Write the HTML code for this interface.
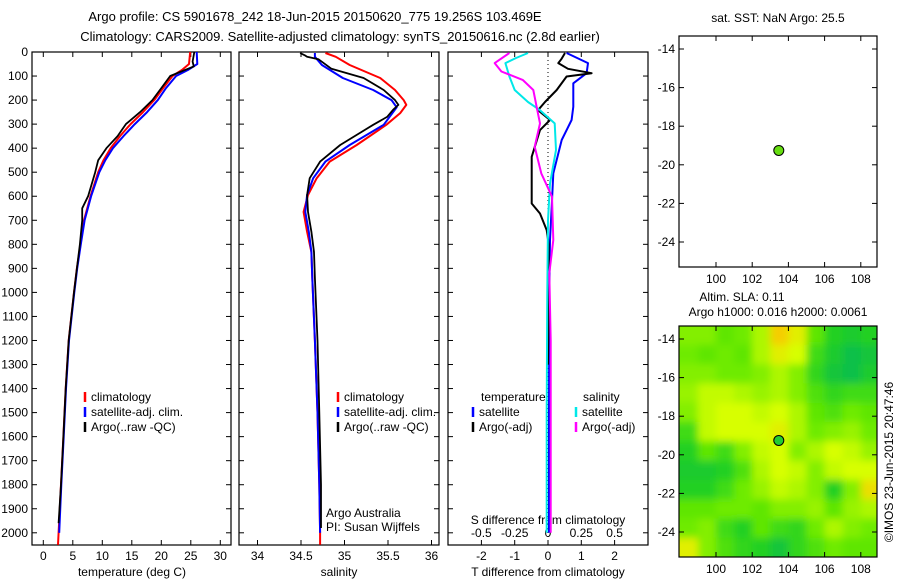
<!DOCTYPE html>
<html><head><meta charset="utf-8"><style>
body{margin:0;background:#fff;}
svg text{font-family:"Liberation Sans",sans-serif;fill:#000;}
</style></head><body>
<svg id="fig" width="900" height="580" xmlns="http://www.w3.org/2000/svg">
<defs>
<filter id="blur" x="-5%" y="-5%" width="110%" height="110%"><feGaussianBlur stdDeviation="4"/></filter>
<clipPath id="mapclip"><rect x="679" y="326" width="198" height="231"/></clipPath>
</defs>
<text x="315" y="21" font-size="13" text-anchor="middle">Argo profile: CS 5901678_242 18-Jun-2015 20150620_775 19.256S 103.469E</text>
<text x="340" y="41" font-size="13" text-anchor="middle">Climatology: CARS2009. Satellite-adjusted climatology: synTS_20150616.nc (2.8d earlier)</text>
<g id="g"></g>
</svg>
<script>
// ---- data ----
const tempDepths = [0,50,75,100,150,200,250,300,350,400,450,500,600,700,800,900,1000,1200,1400,1600,1800,2000,2050];
const tempClim   = [24.9,24.7,23.5,21.9,20.3,18.8,16.9,14.8,13.0,11.4,10.2,9.3,8.0,6.9,6.3,5.7,5.2,4.3,3.8,3.4,3.0,2.6,2.5];
const tempSatDepths = [0,50,75,100,150,200,250,300,350,400,450,500,600,700,800,900,1000,1200,1400,1600,1800,2000];
const tempSat    = [26.0,26.1,24.5,22.5,20.8,19.4,17.6,15.5,13.6,11.8,10.5,9.5,8.1,7.0,6.35,5.75,5.25,4.35,3.85,3.45,3.05,2.7];
const tempArgoDepths = [0,40,60,100,150,200,250,300,350,400,450,500,600,650,700,800,900,1000,1200,1400,1600,1800,1960];
const tempArgo   = [25.6,25.3,25.5,21.5,20.0,18.5,16.4,14.0,12.6,10.7,9.3,8.8,7.6,6.6,6.6,6.2,5.7,5.2,4.3,3.8,3.4,3.0,2.6];

const salDepths = [4,20,54,108,158,200,220,254,303,387,456,525,595,665,748,832,940,1200,1500,1800,2000,2050];
const salClim   = [34.78,34.90,35.06,35.41,35.58,35.68,35.71,35.64,35.48,35.14,34.83,34.68,34.58,34.53,34.57,34.62,34.63,34.66,34.69,34.71,34.72,34.72];
const salSatDepths = [4,20,54,108,158,200,230,303,387,456,525,595,665,748,832,940,1200,1500,1800,2000];
const salSat    = [34.66,34.66,34.74,34.98,35.33,35.54,35.60,35.45,35.06,34.78,34.64,34.57,34.55,34.59,34.62,34.63,34.66,34.69,34.71,34.72];
const salArgoDepths = [4,15,20,30,70,108,158,200,220,240,270,303,387,456,525,595,665,748,832,940,1200,1500,1800,1980];
const salArgo   = [34.49,34.55,34.57,34.70,34.85,35.22,35.45,35.58,35.62,35.56,35.49,35.33,34.95,34.72,34.60,34.57,34.58,34.62,34.65,34.66,34.69,34.71,34.73,34.73];

const dTSatDepths = [4,46,88,130,228,283,366,505,644,782,1000,1500,2000];
const dTSat = [0.56,1.2,1.16,0.76,0.76,0.71,0.41,0.16,0.11,0.06,0.04,0.03,0.03];
const dTArgoDepths = [4,30,46,70,88,102,158,208,242,283,325,436,547,630,672,741,800,1000,1300];
const dTArgo = [0.51,0.4,0.31,0.6,1.31,0.56,0.26,-0.09,-0.3,0.06,-0.24,-0.49,-0.49,-0.49,-0.24,-0.04,0.02,0.02,0.0];
const dSSatDepths = [4,25,46,102,158,208,242,297,408,547,700,1000,1500,2000];
const dSSat = [-0.15,-0.24,-0.32,-0.29,-0.25,-0.15,-0.06,0.05,0.06,0.015,0.0,-0.005,-0.01,-0.01];
const dSArgoDepths = [4,46,81,116,158,242,297,394,505,602,782,921,1200,1500,2000];
const dSArgo = [-0.29,-0.4,-0.35,-0.19,-0.11,-0.08,-0.06,-0.1,-0.05,0.03,0.04,0.01,0.02,0.02,0.02];

const depthTicks = [0,100,200,300,400,500,600,700,800,900,1000,1100,1200,1300,1400,1500,1600,1700,1800,1900,2000];
const tempTicks = [0,5,10,15,20,25,30];
const salTicks = [34,34.5,35,35.5,36];
const salTickLabels = ["34","34.5","35","35.5","36"];
const dTTicks = [-2,-1,0,1,2];
const dSTicks = [-0.5,-0.25,0,0.25,0.5];
const dSTickLabels = ["-0.5","-0.25","0","0.25","0.5"];
const lonTicks = [100,102,104,106,108];
const latTicks = [-14,-16,-18,-20,-22,-24];
const argoLon = 103.469, argoLat = -19.256;
const slaGrid = [
[0.6,0.6,0.5,0.55,0.7,0.95,0.85,0.5,0.3,0.25,0.3],
[0.55,0.5,0.55,0.5,0.7,0.85,0.8,0.4,0.25,0.15,0.2],
[0.6,0.6,0.55,0.55,0.6,0.7,0.6,0.35,0.2,0.15,0.25],
[0.65,0.75,0.75,0.7,0.65,0.7,0.6,0.45,0.35,0.4,0.4],
[0.6,0.75,0.8,0.8,0.75,0.8,0.7,0.5,0.45,0.55,0.5],
[0.4,0.75,0.8,0.8,0.8,0.85,0.7,0.55,0.6,0.65,0.55],
[0.3,0.5,0.4,0.6,0.75,0.8,0.6,0.7,0.8,0.75,0.65],
[0.25,0.25,0.3,0.45,0.7,0.8,0.75,0.6,0.75,0.8,0.8],
[0.3,0.3,0.4,0.55,0.65,0.75,0.7,0.6,0.3,0.6,0.9],
[0.5,0.5,0.55,0.55,0.5,0.6,0.6,0.65,0.5,0.65,0.7],
[0.55,0.6,0.4,0.3,0.5,0.4,0.35,0.55,0.7,0.6,0.55],
[0.85,0.6,0.45,0.35,0.3,0.2,0.35,0.45,0.55,0.5,0.5]];

// ---- drawing ----
const NS="http://www.w3.org/2000/svg";
const G=document.getElementById('g');
function el(tag,attrs,parent){const e=document.createElementNS(NS,tag);for(const k in attrs)e.setAttribute(k,attrs[k]);(parent||G).appendChild(e);return e;}
function txt(x,y,s,size,anchor,parent){const t=el('text',{x:x,y:y,'font-size':size||12,'text-anchor':anchor||'middle'},parent);t.textContent=s;return t;}
const Y = d => 52 + 0.2404*d;
const xT = v => 43.3 + 5.9*v;
const xS = v => 257.5 + 87*(v-34);
const xDT = v => 548 + 33.3*v;
const xDS = v => 548 + 133.2*v;
const xLon = v => 716 + 18.1*(v-100);
const yLat1 = v => 49 + 19.3*(-14 - v);
const yLat2 = v => 339 + 19.3*(-14 - v);

function frame(x0,y0,x1,y1,name){const r=el('rect',{x:x0,y:y0,width:x1-x0,height:y1-y0,fill:'none',stroke:'#000','stroke-width':1.2});}
function line(xs,ds,xf,color,name,w){
  const pts=xs.map((v,i)=>xf(v).toFixed(1)+','+Y(ds[i]).toFixed(1)).join(' ');
  const p=el('polyline',{points:pts,fill:'none',stroke:color,'stroke-width':w||2,'stroke-linejoin':'round'});
  
  
}
function xTicks(vals,labels,xf,y0,y1,ly){
  vals.forEach((v,i)=>{const x=xf(v);el('line',{x1:x,y1:y1,x2:x,y2:y1-5,stroke:'#000'});el('line',{x1:x,y1:y0,x2:x,y2:y0+5,stroke:'#000'});
    if(labels){const t=txt(x,ly,labels[i],12);}});
}
function yTicks(x0,x1,ticks,yf,labelX){
  ticks.forEach(v=>{const y=yf(v);el('line',{x1:x0,y1:y,x2:x0+5,y2:y,stroke:'#000'});el('line',{x1:x1,y1:y,x2:x1-5,y2:y,stroke:'#000'});
    if(labelX!==undefined){const t=txt(labelX,y+4,String(v),12,'end');}});
}
function legend(x,y,color,label){
  el('line',{x1:x,y1:y-5,x2:x,y2:y+5,stroke:color,'stroke-width':2.5});
  if(label){const t=txt(x+6,y+4,label,12,'start');}
}

// Panel 1: temperature
frame(32,52,231,545,'temperature-plot-frame');
yTicks(32,231,depthTicks,Y,28);
xTicks(tempTicks,tempTicks.map(String),xT,52,545,560);
{const t=txt(132,576,'temperature (deg C)',12);}
line(tempClim,tempDepths,xT,'#ff0000','temp-climatology-line');
line(tempSat,tempSatDepths,xT,'#0000ff','temp-satellite-line');
line(tempArgo,tempArgoDepths,xT,'#000000','temp-argo-line',1.8);
legend(85,397,'#ff0000','climatology');legend(85,412,'#0000ff','satellite-adj. clim.');legend(85,427,'#000','Argo(..raw -QC)');

// Panel 2: salinity
frame(239,52,439,545,'salinity-plot-frame');
yTicks(239,439,depthTicks,Y);
xTicks(salTicks,salTickLabels,xS,52,545,560);
{const t=txt(339,576,'salinity',12);}
line(salClim,salDepths,xS,'#ff0000','sal-climatology-line');
line(salSat,salSatDepths,xS,'#0000ff','sal-satellite-line');
line(salArgo,salArgoDepths,xS,'#000000','sal-argo-line',1.8);
legend(338,397,'#ff0000','climatology');legend(338,412,'#0000ff','satellite-adj. clim.');legend(338,427,'#000','Argo(..raw -QC)');
{const t=txt(326,517,'Argo Australia',12,'start');
 const t2=txt(326,531,'PI: Susan Wijffels',12,'start');}

// Panel 3: differences
frame(448,52,648,545,'difference-plot-frame');
yTicks(448,648,depthTicks,Y);
xTicks(dTTicks,dTTicks.map(String),xDT,52,545,560);
dSTicks.forEach((v,i)=>{const t=txt(xDS(v),537,dSTickLabels[i],12);});
el('line',{x1:548,y1:52,x2:548,y2:545,stroke:'#000','stroke-dasharray':'1,3'});
{const t=txt(548,524,'S difference from climatology',12);
 const t2=txt(548,576,'T difference from climatology',12);}
line(dTSat,dTSatDepths,xDT,'#0000ff','dT-satellite-line');
line(dTArgo,dTArgoDepths,xDT,'#000000','dT-argo-line');
line(dSSat,dSSatDepths,xDS,'#00e8e8','dS-satellite-line');
line(dSArgo,dSArgoDepths,xDS,'#ff00ff','dS-argo-line');
{const t=txt(481,401,'temperature',12,'start');
 const t2=txt(583,401,'salinity',12,'start');}
legend(473,412,'#0000ff','satellite');legend(473,427,'#000','Argo(-adj)');
legend(576,412,'#00e8e8','satellite');legend(576,427,'#ff00ff','Argo(-adj)');

// Map 1: SST
frame(679,36,877,267,'sst-map-frame');
xTicks(lonTicks,lonTicks.map(String),xLon,36,267,283);
yTicks(679,877,latTicks,yLat1,675);
{const t=txt(778,22,'sat. SST: NaN Argo: 25.5',12);}
{const c=el('circle',{cx:xLon(argoLon),cy:yLat1(argoLat),r:5,fill:'#66dd11',stroke:'#000','stroke-width':1});}

// Map 2: SLA
function cmap(v){const stops=[[0,[0,176,112]],[0.3,[32,208,32]],[0.55,[110,235,0]],[0.8,[215,255,0]],[1,[255,190,0]]];
 for(let i=1;i<stops.length;i++){if(v<=stops[i][0]){const a=stops[i-1],b=stops[i],f=(v-a[0])/(b[0]-a[0]);return 'rgb('+a[1].map((c,k)=>Math.round(c+f*(b[1][k]-c))).join(',')+')';}}return 'rgb(255,190,0)';}
const mg=el('g',{'clip-path':'url(#mapclip)'});


const bg=el('g',{filter:'url(#blur)'},mg);
slaGrid.forEach((row,r)=>row.forEach((v,c)=>{
  const x=xLon(98+c), y=yLat2(-13.3-r);
  const rc=el('rect',{x:x-(c==0?20:0),y:y-(r==0?20:0),width:18.6+(c==0?20:0)+(c==row.length-1?20:0),height:19.8+(r==0?20:0)+(r==slaGrid.length-1?20:0),fill:cmap(v)},bg);
  
  
}));
frame(679,326,877,557,'sla-map-frame');
xTicks(lonTicks,lonTicks.map(String),xLon,326,557,573);
yTicks(679,877,latTicks,yLat2,675);
{const t=txt(742,301,'Altim. SLA: 0.11',12);
 const t2=txt(778,316,'Argo h1000: 0.016 h2000: 0.0061',12);}
{const c=el('circle',{cx:xLon(argoLon),cy:yLat2(argoLat),r:5,fill:'#22cc33',stroke:'#000','stroke-width':1});}
{const t=txt(0,0,'©IMOS 23-Jun-2015 20:47:46',12);t.setAttribute('transform','translate(893,462) rotate(-90)');}
</script>
</body></html>
